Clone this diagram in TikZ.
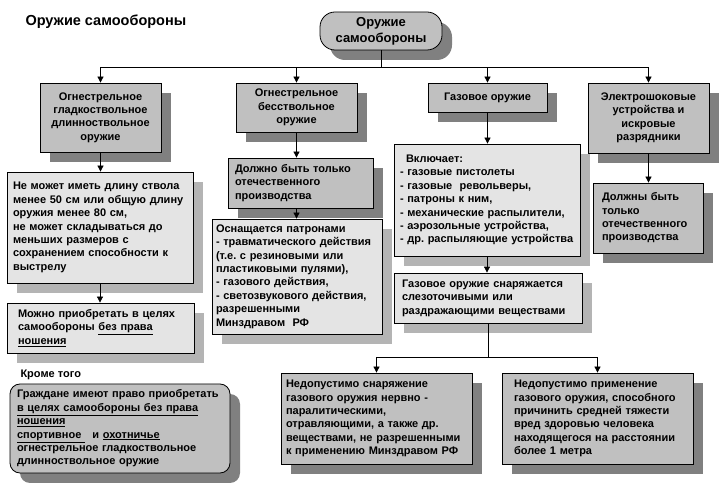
\documentclass[tikz,border=0pt]{standalone}
\usepackage{fontspec}
\setmainfont{Liberation Sans}
\usetikzlibrary{arrows.meta,shadows}
\frenchspacing

\definecolor{boxmid}{HTML}{C0C0C0}
\definecolor{boxlight}{HTML}{E4E4E4}
\definecolor{shadowdark}{HTML}{808080}
\definecolor{shadowlight}{HTML}{B4B4B4}

\tikzset{
  box/.style={draw=black, line width=0.8pt, align=left, inner sep=0pt,
    font=\fontsize{11}{13.4}\selectfont\bfseries},
  midbox/.style={box, fill=boxmid,
    general shadow={fill=shadowdark, shadow xshift=10pt, shadow yshift=-10pt}},
  lightbox/.style={box, fill=boxlight,
    general shadow={fill=shadowlight, shadow xshift=10pt, shadow yshift=-10pt}},
  arr/.style={-{Triangle[width=6pt,length=6pt]}, line width=0.8pt},
}

\begin{document}
\begin{tikzpicture}[x=1pt, y=-1pt]
    \useasboundingbox[fill=white] (0,0) rectangle (721,486);

    \node[anchor=west, font=\fontsize{14.5}{16}\selectfont\bfseries] (title) at (22,22) {Оружие самообороны};
    \node[midbox, rounded corners=15pt, align=center, minimum width=122pt, minimum height=38pt,
      font=\fontsize{13}{16}\selectfont\bfseries] (weapon) at (381,31) {Оружие\\самообороны};

    % first row
    \node[midbox, align=center, minimum width=121pt, minimum height=69pt] (smooth) at (100.5,117.5)
      {Огнестрельное\\гладкоствольное\\длинноствольное\\оружие};
    \node[midbox, align=center, minimum width=121pt, minimum height=49pt] (barrelless) at (296.5,107.5)
      {Огнестрельное\\бесствольное\\оружие};
    \node[midbox, align=center, minimum width=119pt, minimum height=29pt] (gas) at (487.5,97.5)
      {Газовое оружие};
    \node[midbox, align=center, minimum width=121pt, minimum height=70pt] (shock) at (648.5,118)
      {Электрошоковые\\устройства и\\искровые\\разрядники};

    % left column
    \node[lightbox, minimum width=186pt, minimum height=111pt, text width=174pt] (length) at (100,227.5)
      {Не может иметь длину ствола\\менее 50 см или общую длину\\оружия менее 80 см,\\не может складываться до\\меньших размеров с\\сохранением способности к\\выстрелу};
    \node[lightbox, minimum width=187pt, minimum height=50pt, text width=165pt] (buy) at (100.5,328)
      {Можно приобретать в целях\\самообороны \underline{без права}\\\underline{ношения}};

    % second column
    \node[midbox, minimum width=145pt, minimum height=50pt, text width=131pt] (domestic) at (300.5,183)
      {Должно быть только\\отечественного\\производства};
    \node[lightbox, minimum width=170pt, minimum height=115pt, text width=162pt] (cartridges) at (297,276.5)
      {Оснащается патронами\\- травматического действия\\(т.е. с резиновыми или\\пластиковыми пулями),\\- газового действия,\\- светозвукового действия,\\разрешенными\\Минздравом~~РФ};

    % third column
    \node[lightbox, minimum width=186pt, minimum height=112pt, text width=174pt] (includes) at (487,200)
      {\hspace*{6pt}Включает:\\- газовые пистолеты\\- газовые~~револьверы,\\- патроны к ним,\\- механические распылители,\\- аэрозольные устройства,\\- др. распыляющие устройства};
    \node[lightbox, minimum width=188pt, minimum height=50pt, text width=172pt] (charge) at (488,298)
      {Газовое оружие снаряжается\\слезоточивыми или\\раздражающими веществами};

    % fourth column
    \node[midbox, minimum width=110pt, minimum height=70pt, text width=92pt] (domestic2) at (648,218)
      {Должны быть\\только\\отечественного\\производства};

    % bottom row
    \node[midbox, minimum width=191pt, minimum height=91pt, text width=181pt] (nerve) at (376.5,418.5)
      {Недопустимо снаряжение\\газового оружия нервно -\\паралитическими,\\отравляющими, а также др.\\веществами, не разрешенными\\к применению Минздравом РФ};
    \node[midbox, minimum width=191pt, minimum height=91pt, text width=167pt] (harm) at (597.5,418.5)
      {Недопустимо применение\\газового оружия, способного\\причинить средней тяжести\\вред здоровью человека\\находящегося на расстоянии\\более 1 метра};

    \node[anchor=west, font=\fontsize{11}{13.4}\selectfont\bfseries] (besides) at (17,375) {Кроме того};
    \node[midbox, rounded corners=10pt, minimum width=220pt, minimum height=89pt, text width=206pt] (citizens) at (120,428.5)
      {Граждане имеют право приобретать\\\underline{в целях самообороны без права}\\\underline{ношения}\\\underline{спортивное\ }~~и \underline{охотничье}\\огнестрельное гладкоствольное\\длинноствольное оружие};

    % connectors
    \coordinate (split) at (381,67);
    \coordinate (split2) at (488,357);
    \draw[line width=0.8pt] (weapon.south) -- (split);
    \draw[arr] (split) -| (smooth.north);
    \draw[arr] (split) -| (barrelless.north);
    \draw[arr] (split) -| (gas.north);
    \draw[arr] (split) -| (shock.north);
    \draw[arr] (smooth.south) -- (smooth.south |- length.north);
    \draw[arr] (length.south) -- (length.south |- buy.north);
    \draw[arr] (barrelless.south) -- (barrelless.south |- domestic.north);
    \draw[arr] (barrelless.south |- domestic.south) -- (barrelless.south |- cartridges.north);
    \draw[arr] (gas.south) -- (gas.south |- includes.north);
    \draw[arr] (includes.south) -- (includes.south |- charge.north);
    \draw[line width=0.8pt] (charge.south) -- (split2);
    \draw[arr] (split2) -| (nerve.north);
    \draw[arr] (split2) -| (harm.north);
    \draw[arr] (shock.south) -- (shock.south |- domestic2.north);
\end{tikzpicture}
\end{document}
